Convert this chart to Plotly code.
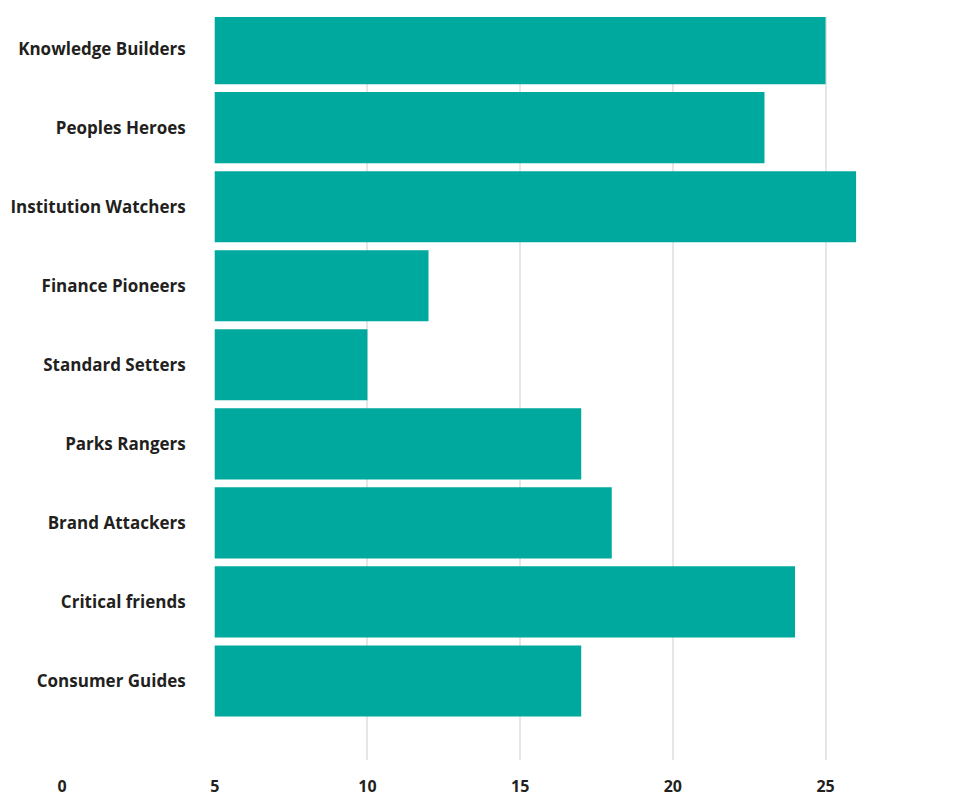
import plotly.graph_objects as go

categories = ["Knowledge Builders", "Peoples Heroes", "Institution Watchers", "Finance Pioneers",
              "Standard Setters", "Parks Rangers", "Brand Attackers", "Critical friends", "Consumer Guides"]
values = [25, 23, 26, 12, 10, 17, 18, 24, 17]
tick_values = [0, 5, 10, 15, 20, 25]
tick_labels = ["0", "5", "10", "15", "20", "25"]

BAR = "#00A99D"
TXT = "#231F20"
GRID = "#E6E6E6"
FONT = "Open Sans"

x_max = 29.5
x_start = 5

fig = go.Figure()
fig.add_trace(go.Bar(
    y=categories, x=values, orientation="h",
    marker=dict(color=BAR, line=dict(width=0)),
    width=0.9, xaxis="x", yaxis="y", hoverinfo="x+y",
))
fig.add_trace(go.Scatter(x=[None], y=[categories[0]], xaxis="x2", yaxis="y",
                         mode="markers", showlegend=False, hoverinfo="skip"))

fig.update_layout(
    width=963, height=799,
    margin=dict(l=62, r=0, t=17, b=39),
    paper_bgcolor="white", plot_bgcolor="rgba(0,0,0,0)",
    showlegend=False,
    bargap=0.1,
    font=dict(family=FONT, color=TXT),
    xaxis=dict(
        domain=[x_start / x_max, 1], range=[x_start, x_max], anchor="y",
        showticklabels=False, tickvals=tick_values[1:], showgrid=True,
        gridcolor=GRID, gridwidth=2, zeroline=False, showline=False, ticks="",
        automargin=False,
    ),
    xaxis2=dict(
        domain=[0, 1], range=[0, x_max], anchor="y",
        tickvals=tick_values, ticktext=tick_labels, showgrid=False, zeroline=False,
        showline=False, ticks="", ticklabelstandoff=15, automargin=False,
        tickfont=dict(family=FONT, size=16, color=TXT, weight="bold"),
    ),
    yaxis=dict(
        categoryorder="array", categoryarray=categories,
        range=[9.0, -0.4], anchor="x", showgrid=False, zeroline=False, showline=False,
        ticks="", ticklabelstandoff=28, automargin=False,
        tickfont=dict(family=FONT, size=17, color=TXT, weight="bold"),
    ),
)

fig.write_html("out.html")
